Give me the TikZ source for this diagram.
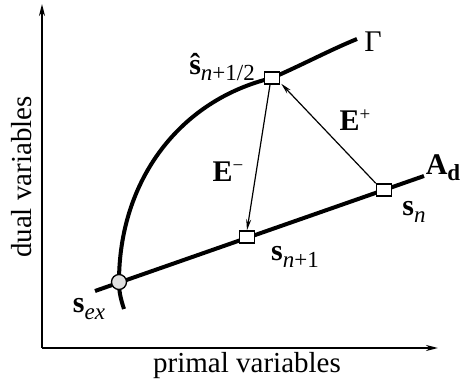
\documentclass[tikz,border=0pt]{standalone}
\usepackage{fontspec}
\setmainfont{Liberation Serif}
\usetikzlibrary{arrows.meta}
\newcommand{\lbl}{\fontsize{30}{34}\selectfont}
\newcommand{\axl}{\fontsize{29}{33}\selectfont}
\newcommand{\lowsub}[1]{\raisebox{-0.45ex}{\fontsize{23}{26}\selectfont #1}}
\newcommand{\hisup}[1]{\raisebox{0.75ex}{\fontsize{19}{22}\selectfont #1}}
\begin{document}
\begin{tikzpicture}[x=1pt,y=-1pt,
  thickcurve/.style={line width=4pt},
  axisline/.style={line width=1.8pt,-{Stealth[length=12pt,width=6pt]}},
  maparrow/.style={line width=1.2pt,-{Stealth[length=11pt,width=5pt]}},
  sqnode/.style={draw,line width=1.5pt,fill=white,rectangle,minimum width=15pt,minimum height=12pt,inner sep=0pt},
  crnode/.style={draw,line width=1.3pt,fill=black!12,circle,minimum size=15pt,inner sep=0pt},
  txt/.style={inner sep=0pt,font=\lbl}]
\useasboundingbox (0,0) rectangle (464,385);
% axes
\coordinate (O) at (42,348);
\coordinate (ytop) at (42,4);
\coordinate (xend) at (438,348);
\draw[axisline] (O) -- (ytop);
\draw[axisline] (O) -- (xend);
\node[inner sep=0pt,font=\axl] (xl) at (247,366) {primal variables};
\node[inner sep=0pt,font=\axl,rotate=90] (yl) at (22,177) {dual variables};
% curves
\coordinate (g0) at (124,309);
\coordinate (g3) at (357,39);
\coordinate (a0) at (95,291);
\coordinate (a1) at (424,176);
\draw[thickcurve] (g0) .. controls (120,297) and (119,290) .. (119,282)
   .. controls (119,180) and (180,100) .. (272,78)
   .. controls (302,65) and (330,50) .. (g3);
\draw[thickcurve] (a0) -- (a1);
% points
\node[crnode] (sex) at (119,282) {};
\node[sqnode] (sh) at (272,78) {};
\node[sqnode] (sn) at (384,190) {};
\node[sqnode] (snp) at (247,237) {};
% arrows
\draw[maparrow] (sn.north west) -- ([xshift=1pt,yshift=1pt]sh.south east);
\draw[maparrow] ([xshift=-2pt]sh.south) -- (snp.north);
% labels
\node[txt] (lG) at (373,42) {Γ};
\node[txt,anchor=east] (lsh) at (255,67) {\textbf{ŝ}\lowsub{\textit{n}+1/2}};
\node[txt] (lEp) at (355,120) {\textbf{E}\hisup{+}};
\node[txt] (lEm) at (228,172) {\textbf{E}\hisup{−}};
\node[txt] (lAd) at (443,168) {\textbf{A}\lowsub{\textbf{d}}};
\node[txt] (lsn) at (414,212) {\textbf{s}\lowsub{\textit{n}}};
\node[txt] (lsnp) at (295,257) {\textbf{s}\lowsub{\textit{n}+1}};
\node[txt] (lsex) at (89,309) {\textbf{s}\lowsub{\textit{ex}}};
\end{tikzpicture}
\end{document}
